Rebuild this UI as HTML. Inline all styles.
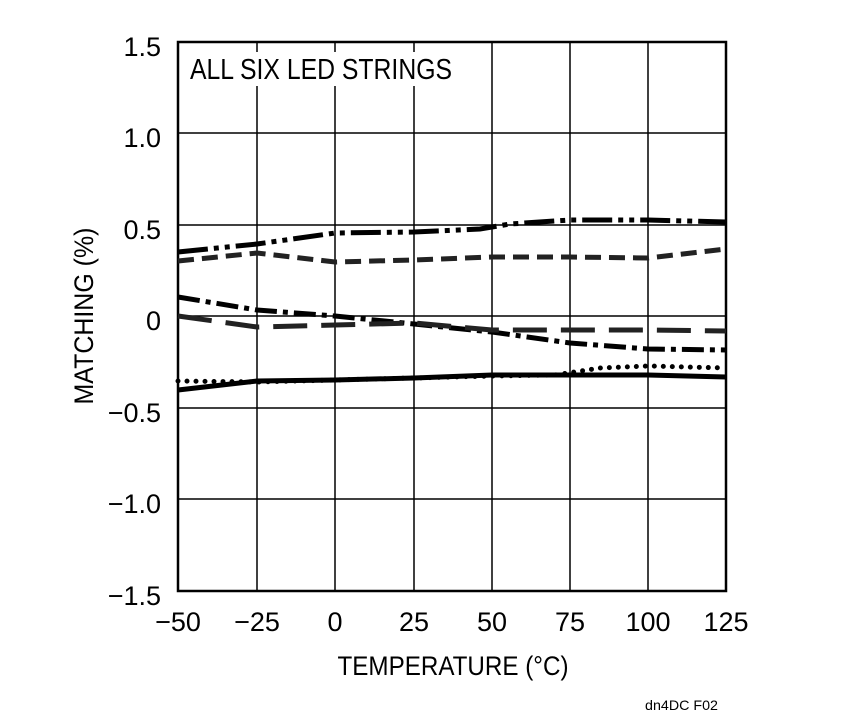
<!DOCTYPE html>
<html><head><style>body{margin:0;background:#fff}svg{display:block}</style></head>
<body>
<svg width="865" height="721" xmlns="http://www.w3.org/2000/svg" font-family="'Liberation Sans Narrow','Liberation Sans',sans-serif" fill="#000">
<rect width="865" height="721" fill="#fff"/>
<g stroke="#000" stroke-width="1.5">
<line x1="257" y1="42" x2="257" y2="591"/><line x1="335" y1="42" x2="335" y2="591"/><line x1="414" y1="42" x2="414" y2="591"/><line x1="492" y1="42" x2="492" y2="591"/><line x1="570" y1="42" x2="570" y2="591"/><line x1="648" y1="42" x2="648" y2="591"/>
<line x1="178" y1="133" x2="726" y2="133"/><line x1="178" y1="225" x2="726" y2="225"/><line x1="178" y1="316" x2="726" y2="316"/><line x1="178" y1="408" x2="726" y2="408"/><line x1="178" y1="499" x2="726" y2="499"/>
</g>
<rect x="178" y="42" width="548" height="549" fill="none" stroke="#000" stroke-width="2.5"/>
<rect x="186" y="52" width="272" height="34" fill="#fff"/>
<text x="190" y="79" font-size="29" textLength="262" lengthAdjust="spacingAndGlyphs">ALL SIX LED STRINGS</text>
<g fill="none" stroke="#000" stroke-width="5">
<polyline stroke-dasharray="30 6 5 6 5 6" points="178,252 257,244 335,233 414,232 480,229 510,224 570,220 648,220 726,222"/>
<polyline stroke="#222" stroke-dasharray="16 8" points="178,261 257,253 335,262 414,260 492,257 570,257 648,258 726,249"/>
<polyline stroke-dasharray="22 6 5 6" points="178,297 257,310 335,316 414,324 492,332 570,343 648,349 726,350"/>
<polyline stroke="#222" stroke-dasharray="34 14" points="178,316 257,327 335,325 414,323 492,330 570,330 648,330 726,331"/>
<polyline stroke-width="5" stroke-linecap="round" stroke-dasharray="0 9" points="178,381 257,382 335,380 414,378 492,376 555,375 600,368 648,366 726,368"/>
<polyline points="178,390 257,381 335,380 414,378 492,375 570,375 648,375 726,377"/>
</g>
<g font-size="27" text-anchor="end">
<text x="161" y="56">1.5</text><text x="161" y="147">1.0</text><text x="161" y="239">0.5</text><text x="161" y="330">0</text><text x="161" y="422">−0.5</text><text x="161" y="513">−1.0</text><text x="161" y="605">−1.5</text>
</g>
<g font-size="27" text-anchor="middle">
<text x="178" y="631">−50</text><text x="257" y="631">−25</text><text x="335" y="631">0</text><text x="414" y="631">25</text><text x="492" y="631">50</text><text x="570" y="631">75</text><text x="648" y="631">100</text><text x="726" y="631">125</text>
<text x="453" y="675" textLength="231" lengthAdjust="spacingAndGlyphs">TEMPERATURE (°C)</text>
<text transform="translate(93,316) rotate(-90)" textLength="177" lengthAdjust="spacingAndGlyphs">MATCHING (%)</text>
</g>
<text x="645" y="710" font-size="14" textLength="73" lengthAdjust="spacingAndGlyphs">dn4DC F02</text>
</svg>
</body></html>
